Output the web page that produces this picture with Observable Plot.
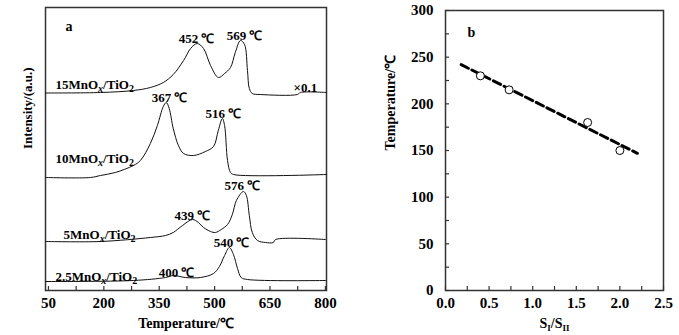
<!DOCTYPE html>
<html>
<head>
<meta charset="utf-8">
<script src="https://cdn.jsdelivr.net/npm/d3@7"></script>
<script src="https://cdn.jsdelivr.net/npm/@observablehq/plot@0.6"></script>
<style>
  html, body { margin: 0; padding: 0; background: #fff; }
  #wrap { display: flex; width: 679px; height: 335px; overflow: hidden; }
  #wrap svg { font-family: "Liberation Serif", "Times New Roman", serif; font-weight: bold; }
</style>
</head>
<body>
<div id="wrap"><div id="pa"></div><div id="pb"></div></div>
<script>
// ---------- Panel a: H2-TPR profiles (temperature °C, intensity a.u.) ----------
const t15 = [42, 191, 280, 326, 361, 388, 416, 435, 453, 470, 489, 510, 527, 543, 556, 570, 581, 589, 594, 602, 624, 724, 732, 803];
const i15 = [197.5, 198, 200, 203, 208, 216, 230, 242, 247, 242, 225, 213, 217, 223, 238, 250, 246, 220, 202, 197, 196, 196, 198, 198];

const t10 = [42, 164, 191, 231, 280, 299, 326, 345, 361, 369, 377, 388, 402, 416, 443, 475, 497, 510, 521, 527, 535, 543, 551, 803];
const i10 = [113, 113, 115, 118, 125, 130, 147, 165, 184, 188, 182, 162, 145, 137, 135, 139, 144, 160, 172, 165, 130, 118, 116, 116];

const t5 = [42, 191, 326, 367, 388, 413, 440, 456, 470, 489, 502, 518, 535, 548, 559, 578, 586, 594, 602, 616, 638, 659, 665, 800];
const i5 = [49, 49, 53, 55, 58, 65, 71, 68, 63, 59, 58, 61, 66, 76, 90, 99, 95, 75, 58, 50, 48, 48, 51, 51];

const t25 = [42, 280, 367, 388, 421, 462, 497, 513, 527, 540, 551, 562, 572, 589, 800];
const i25 = [9, 10, 13, 15, 13, 13, 17, 24, 35, 43, 36, 22, 13, 11, 10];

const seriesA = [
  {name: "15MnOx/TiO2", t: t15, v: i15},
  {name: "10MnOx/TiO2", t: t10, v: i10},
  {name: "5MnOx/TiO2", t: t5, v: i5},
  {name: "2.5MnOx/TiO2", t: t25, v: i25}
];

// annotations (text, temperature, intensity)
const annText = ["452 ℃", "569 ℃", "×0.1", "367 ℃", "516 ℃", "576 ℃", "439 ℃", "540 ℃", "400 ℃"];
const annT    = [451, 581, 746, 378, 524, 575, 440, 546, 397];
const annV    = [252, 255, 203, 193, 177, 105, 75, 48, 18];

const sampleNames = ["15MnOx/TiO2", "10MnOx/TiO2", "5MnOx/TiO2", "2.5MnOx/TiO2"];
const sampleT = [69, 69, 91, 69];
const sampleV = [206, 132, 56, 14];

const xTicksA = [50, 200, 350, 500, 650, 800];
const xMinorA = d3.range(50, 801, 75);

const rowsA = seriesA.flatMap(s => s.t.map((t, i) => ({series: s.name, t, v: s.v[i]})));
const annRows = annText.map((s, i) => ({s, t: annT[i], v: annV[i]}));
const sampleRows = sampleNames.map((s, i) => ({s, t: sampleT[i], v: sampleV[i]}));

const plotA = Plot.plot({
  width: 340, height: 335,
  marginLeft: 45, marginRight: 14, marginTop: 7, marginBottom: 45,
  style: {fontSize: "14px", fontFamily: "Liberation Serif, serif", fontWeight: "bold", color: "#000"},
  x: {domain: [42, 803], label: null},
  y: {domain: [0, 283], label: null},
  marks: [
    Plot.frame({stroke: "#333", strokeWidth: 1.5}),
    Plot.axisX({ticks: xMinorA, tickSize: -4, tickFormat: () => "", stroke: "#333", strokeWidth: 1.2, label: null}),
    Plot.axisX({ticks: xTicksA, tickSize: 0, tickPadding: 7, label: null, fontSize: 15}),
    Plot.axisY({ticks: [], label: null}),
    Plot.text(["Temperature/℃"], {frameAnchor: "bottom", dy: 37, fontSize: 14, fontWeight: "bold"}),
    Plot.text(["Intensity/(a.u.)"], {frameAnchor: "left", rotate: -90, dx: -18, fontSize: 13, fontWeight: "bold"}),
    Plot.text(["a"], {frameAnchor: "top-left", dx: 20, dy: 14, fontSize: 14, fontWeight: "bold"}),
    Plot.line(rowsA, {x: "t", y: "v", z: "series", stroke: "#111", strokeWidth: 1, curve: "catmull-rom"}),
    Plot.text(annRows, {x: "t", y: "v", text: "s", fontSize: 13, fontWeight: "bold"}),
    Plot.text(sampleRows, {x: "t", y: "v", text: "s", textAnchor: "start", fontSize: 13, fontWeight: "bold", className: "sample"})
  ]
});
document.getElementById("pa").appendChild(plotA);

// ---------- Panel b: temperature vs SI/SII ----------
const ratio = [0.40, 0.73, 1.63, 2.00];
const tempB = [230, 215, 180, 150];
const fitX = [0.18, 2.20];
const fitY = [242, 147];
const xTicksB = [0, 0.5, 1.0, 1.5, 2.0, 2.5];
const yTicksB = [0, 50, 100, 150, 200, 250, 300];

const plotB = Plot.plot({
  width: 339, height: 335,
  marginLeft: 105, marginRight: 16, marginTop: 10, marginBottom: 45,
  style: {fontSize: "14px", fontFamily: "Liberation Serif, serif", fontWeight: "bold", color: "#000"},
  x: {domain: [0, 2.5], label: null},
  y: {domain: [0, 300], label: null},
  marks: [
    Plot.frame({stroke: "#333", strokeWidth: 1.5}),
    Plot.axisX({ticks: d3.range(0, 2.51, 0.25), tickSize: -4, tickFormat: () => "", stroke: "#333", strokeWidth: 1.2, label: null}),
    Plot.axisX({ticks: xTicksB, tickSize: 0, tickPadding: 7, tickFormat: d3.format(".1f"), label: null, fontSize: 15}),
    Plot.axisY({ticks: d3.range(0, 301, 25), tickSize: -4, tickFormat: () => "", stroke: "#333", strokeWidth: 1.2, label: null}),
    Plot.axisY({ticks: yTicksB, tickSize: 0, tickPadding: 12, label: null, fontSize: 15}),
    Plot.text(["Temperature/℃"], {frameAnchor: "left", rotate: -90, dx: -55, fontSize: 14, fontWeight: "bold"}),
    Plot.text(["SI/SII"], {frameAnchor: "bottom", dy: 37, fontSize: 14, fontWeight: "bold", className: "ratio"}),
    Plot.text(["b"], {frameAnchor: "top-left", dx: 22, dy: 17, fontSize: 14, fontWeight: "bold"}),
    Plot.line(fitX.map((x, i) => ({x, y: fitY[i]})), {x: "x", y: "y", stroke: "#000", strokeWidth: 3, strokeDasharray: "8,4"}),
    Plot.dot(ratio.map((x, i) => ({x, y: tempB[i]})), {x: "x", y: "y", r: 4, stroke: "#000", fill: "#fff", strokeWidth: 1})
  ]
});
document.getElementById("pb").appendChild(plotB);

// ---------- subscript formatting ----------
d3.select(plotA).selectAll(".sample text").each(function() {
  const s = this.textContent;
  const m = s.match(/^(.*MnO)x(\/TiO)2$/);
  if (!m) return;
  const el = d3.select(this);
  el.text(null);
  el.append("tspan").text(m[1]);
  el.append("tspan").attr("font-size", "10px").attr("font-style", "italic").attr("dy", "3").text("x");
  el.append("tspan").attr("dy", "-3").text(m[2]);
  el.append("tspan").attr("font-size", "10px").attr("dy", "3").text("2");
});
d3.select(plotB).selectAll(".ratio text").each(function() {
  const el = d3.select(this);
  el.text(null);
  el.append("tspan").text("S");
  el.append("tspan").attr("font-size", "9px").attr("dy", "3").text("I");
  el.append("tspan").attr("dy", "-3").text("/S");
  el.append("tspan").attr("font-size", "9px").attr("dy", "3").text("II");
});
</script>
</body>
</html>
